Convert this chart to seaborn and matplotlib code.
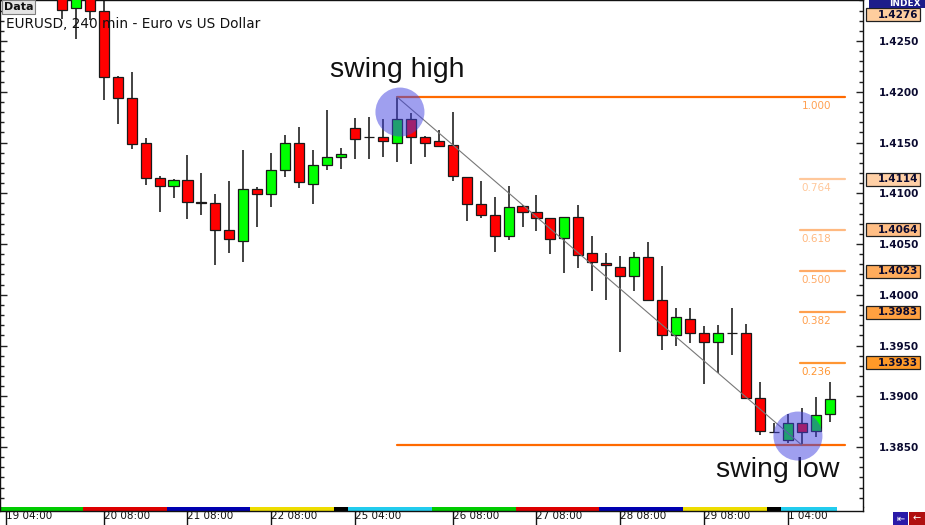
import matplotlib
matplotlib.use("Agg")
import matplotlib.pyplot as plt
import matplotlib.patches as mpatches
import seaborn as sns

# 4h candles, index 0 = "19 04:00"
idx = list(range(4, 60))
opens = [1.4296, 1.4283, 1.4296, 1.4280, 1.4215, 1.4194, 1.4150, 1.4115, 1.4107, 1.4113,
         1.4091, 1.4090, 1.4064, 1.4053, 1.4104, 1.4099, 1.4123, 1.4150, 1.4109, 1.4128,
         1.4136, 1.4164, 1.4155, 1.4155, 1.4150, 1.4173, 1.4155, 1.4151, 1.4148, 1.4116,
         1.4089, 1.4079, 1.4058, 1.4087, 1.4082, 1.4076, 1.4056, 1.4077, 1.4041, 1.4031,
         1.4027, 1.4018, 1.4037, 1.3995, 1.3960, 1.3976, 1.3962, 1.3953, 1.3962, 1.3962,
         1.3898, 1.3865, 1.3857, 1.3874, 1.3866, 1.3883]
highs = [1.4302, 1.4298, 1.4300, 1.4296, 1.4216, 1.4219, 1.4154, 1.4117, 1.4114, 1.4138,
         1.4120, 1.4099, 1.4112, 1.4143, 1.4106, 1.4140, 1.4157, 1.4165, 1.4143, 1.4182,
         1.4145, 1.4174, 1.4175, 1.4173, 1.4195, 1.4179, 1.4156, 1.4162, 1.4180, 1.4116,
         1.4112, 1.4096, 1.4107, 1.4088, 1.4098, 1.4076, 1.4077, 1.4088, 1.4058, 1.4041,
         1.4038, 1.4042, 1.4052, 1.4028, 1.3987, 1.3987, 1.3969, 1.3970, 1.3987, 1.3971,
         1.3914, 1.3874, 1.3883, 1.3888, 1.3899, 1.3914]
lows = [1.4272, 1.4252, 1.4271, 1.4192, 1.4168, 1.4144, 1.4108, 1.4082, 1.4095, 1.4075,
        1.4079, 1.4029, 1.4041, 1.4032, 1.4067, 1.4086, 1.4116, 1.4105, 1.4089, 1.4123,
        1.4124, 1.4134, 1.4134, 1.4136, 1.4131, 1.4129, 1.4136, 1.4146, 1.4112, 1.4073,
        1.4076, 1.4042, 1.4054, 1.4067, 1.4063, 1.4040, 1.4021, 1.4026, 1.4004, 1.3995,
        1.3944, 1.4004, 1.3994, 1.3946, 1.3950, 1.3952, 1.3912, 1.3923, 1.3941, 1.3898,
        1.3862, 1.3864, 1.3854, 1.3852, 1.3860, 1.3875]
closes = [1.4281, 1.4294, 1.4280, 1.4215, 1.4194, 1.4149, 1.4115, 1.4107, 1.4113, 1.4091,
          1.4090, 1.4064, 1.4055, 1.4104, 1.4099, 1.4123, 1.4150, 1.4111, 1.4128, 1.4136,
          1.4139, 1.4153, 1.4155, 1.4151, 1.4173, 1.4155, 1.4150, 1.4147, 1.4117, 1.4089,
          1.4079, 1.4058, 1.4086, 1.4082, 1.4076, 1.4055, 1.4077, 1.4039, 1.4032, 1.4029,
          1.4018, 1.4037, 1.3995, 1.3960, 1.3978, 1.3962, 1.3953, 1.3962, 1.3962, 1.3898,
          1.3866, 1.3865, 1.3874, 1.3865, 1.3882, 1.3897]

time_idx = [0, 7, 13, 19, 25, 32, 38, 44, 50, 56]
time_labels = ["19 04:00", "20 08:00", "21 08:00", "22 08:00", "25 04:00",
               "26 08:00", "27 08:00", "28 08:00", "29 08:00", "1 04:00"]

swing_high_idx, swing_high = 28, 1.4195
swing_low_idx, swing_low = 57, 1.3852
fib_ratios = [0.764, 0.618, 0.500, 0.382, 0.236]
fib_colors = ["#FFC89B", "#FFB980", "#FFAA66", "#FF9F4D", "#FF9633"]

box_labels = ["1.4276", "1.4114", "1.4064", "1.4023", "1.3983", "1.3933"]
box_values = [1.4276, 1.4114, 1.4064, 1.4023, 1.3983, 1.3933]
box_colors = ["#FFCE9E", "#FFD0A6", "#FFBE85", "#FFAC5C", "#FFA040", "#FF9A28"]

session_edges = [-0.43, 5.5, 11.5, 17.5, 23.5, 24.5, 30.5, 36.5, 42.5, 48.5, 54.5, 55.5, 59.5]
session_colors = ["#00CC00", "#DD0000", "#0000B0", "#EEDD00", "#000000", "#22CCEE",
                  "#00CC00", "#DD0000", "#0000B0", "#EEDD00", "#000000", "#22CCEE"]

sns.set_style("white")
plt.rcParams["font.family"] = ["DejaVu Sans"]

fig = plt.figure(figsize=(9.25, 5.25), dpi=100)
ax = fig.add_axes([0, 18 / 525, 863 / 925, 507 / 525])
ax_s = fig.add_axes([0, 14.5 / 525, 863 / 925, 3.5 / 525])

xmin, xmax = -0.43, 61.39
ax.set_xlim(xmin, xmax)
ax.set_ylim(1.37909, 1.42904)

# candles
up = [c >= o for o, c in zip(opens, closes)]
body_cols = ["#00FF00" if u else "#FF0000" for u in up]
ax.vlines(idx, lows, highs, color="#101010", lw=1.1, zorder=2)
ax.bar(idx, [c - o for o, c in zip(opens, closes)], bottom=opens, width=0.72,
       color=body_cols, edgecolor="#1a1a1a", linewidth=0.9, zorder=3)

# fib levels
rng = swing_high - swing_low
x_end = 60.1
ax.plot([swing_high_idx, x_end], [swing_high, swing_high], color="#FF6A00", lw=1.6, zorder=4)
ax.plot([swing_high_idx, x_end], [swing_low, swing_low], color="#FF6A00", lw=1.6, zorder=4)
ax.annotate("1.000", xy=(56.9, swing_high), xytext=(1, -3), textcoords="offset points",
            va="top", ha="left", fontsize=7.5, color="#FF9F50")
for r, c in zip(fib_ratios, fib_colors):
    lvl = swing_low + r * rng
    ax.plot([56.9, x_end], [lvl, lvl], color=c, lw=1.6, zorder=4)
    ax.annotate(f"{r:.3f}", xy=(56.9, lvl), xytext=(1, -3), textcoords="offset points",
                va="top", ha="left", fontsize=7.5, color=c)

sns.lineplot(x=[swing_high_idx, swing_low_idx], y=[swing_high, swing_low], ax=ax,
             color="#777777", lw=0.8, zorder=4)

# swing circles
ax.scatter([28.22, 56.73], [1.4180, 1.38608], s=1245, color="#4040E0", alpha=0.5,
           edgecolors="none", zorder=6)

ax.text(23.2, 1.42145, "swing high", fontsize=20.5, family="Liberation Sans",
        va="baseline", ha="left", color="#111111")
ax.text(50.86, 1.38205, "swing low", fontsize=20.5, family="Liberation Sans",
        va="baseline", ha="left", color="#111111")

ax.text(6 / 863, 1 - 24 / 507, "EURUSD, 240 min - Euro vs US Dollar", transform=ax.transAxes,
        fontsize=9.8, va="center", ha="left", color="#111111")
ax.text(4 / 863, 1 - 7 / 507, "Data", transform=ax.transAxes, fontsize=8, weight="bold",
        va="center", ha="left", color="#111111",
        bbox=dict(boxstyle="square,pad=0.15", fc="#E4E4E4", ec="#808080", lw=0.8))

# right price axis
major = [1.3850 + 0.005 * i for i in range(9)]
ax.yaxis.tick_right()
ax.set_yticks(major)
ax.set_yticklabels([f"{v:.4f}" for v in major])
ax.set_yticks([1.380 + 0.001 * i for i in range(50)], minor=True)
ax.tick_params(axis="y", which="major", direction="in", length=5, width=1,
               left=True, right=True, labelsize=7.5, pad=40.5, colors="#222222",
               labelcolor="#0A0A30")
ax.tick_params(axis="y", which="minor", direction="in", length=3, width=1,
               left=True, right=True, colors="#222222")
plt.setp(ax.get_yticklabels(), ha="right", weight="bold")
ax.set_xticks([])
ax.set_xlabel("")
ax.set_ylabel("")
for s in ["top", "left", "right"]:
    ax.spines[s].set_color("#111111")
    ax.spines[s].set_linewidth(1)
ax.spines["bottom"].set_visible(False)

ytr = ax.get_yaxis_transform()
bh = 13 / 10150
for lab, v, c in zip(box_labels, box_values, box_colors):
    ax.add_patch(mpatches.Rectangle((866 / 863, v - bh / 2), 54 / 863, bh, transform=ytr,
                                    fc=c, ec="#202020", lw=0.9, clip_on=False, zorder=5))
    ax.text(918 / 863, v, lab, transform=ytr, ha="right", va="center", fontsize=7.5,
            weight="bold", color="#0A0A30", clip_on=False, zorder=6)

# INDEX header
fig.patches.append(mpatches.Rectangle((869 / 925, 517 / 525), 56 / 925, 8 / 525,
                                      transform=fig.transFigure, fc="#1C1C8A", ec="none"))
fig.text(921 / 925, 521 / 525, "INDEX", ha="right", va="center", fontsize=6.5,
         weight="bold", color="white")

# session strip + time axis
ax_s.set_xlim(xmin, xmax)
ax_s.set_ylim(0, 1)
for a, b, c in zip(session_edges[:-1], session_edges[1:], session_colors):
    ax_s.axvspan(a, b, color=c, lw=0)
ax_s.set_yticks([])
ax_s.spines["top"].set_visible(False)
for s in ["bottom", "left", "right"]:
    ax_s.spines[s].set_color("#111111")
    ax_s.spines[s].set_linewidth(1)
ax_s.set_xticks(time_idx)
ax_s.set_xticklabels(time_labels)
ax_s.tick_params(axis="x", direction="out", length=11, width=1, pad=-10.5,
                 labelsize=7.5, colors="#111111", bottom=True)
plt.setp(ax_s.get_xticklabels(), ha="left")

# nav buttons
fig.patches.append(mpatches.Rectangle((893 / 925, 0), 15 / 925, 13 / 525,
                                      transform=fig.transFigure, fc="#2A1AA8", ec="none"))
fig.patches.append(mpatches.Rectangle((909 / 925, 0), 16 / 925, 13 / 525,
                                      transform=fig.transFigure, fc="#B01010", ec="none"))
fig.text(900.5 / 925, 6.5 / 525, "⇤", ha="center", va="center", fontsize=7, color="white")
fig.text(917 / 925, 6.5 / 525, "←", ha="center", va="center", fontsize=7, color="white")

fig.savefig("out.png", dpi=100)
